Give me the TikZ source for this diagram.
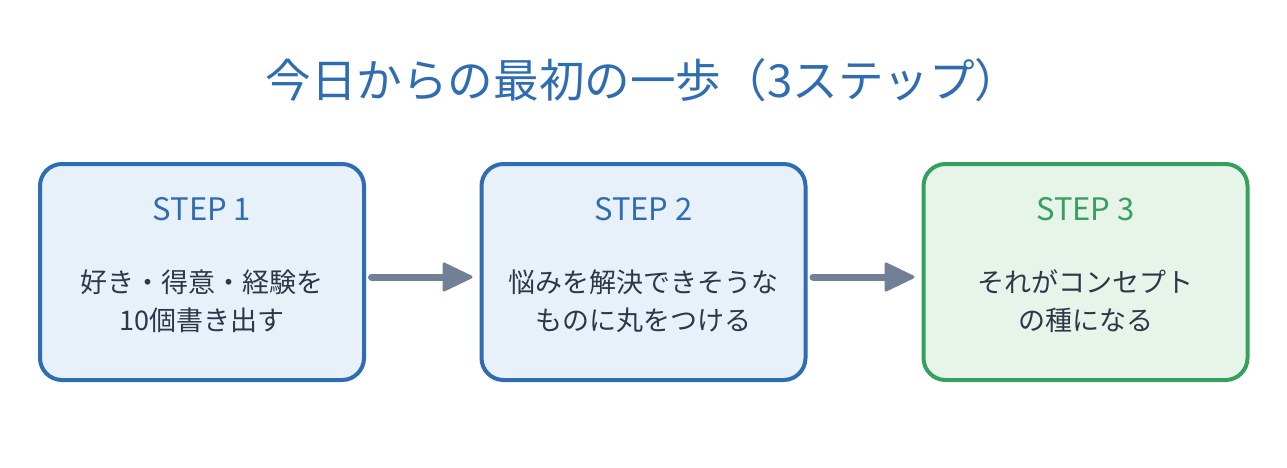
\documentclass[tikz,border=0pt]{standalone}
\usepackage{fontspec}
\setmainfont{Noto Sans CJK JP}
\usetikzlibrary{arrows.meta}
\definecolor{tblue}{HTML}{2F6DB3}
\definecolor{tgreen}{HTML}{38A05E}
\definecolor{fblue}{HTML}{E8F1FA}
\definecolor{fgreen}{HTML}{E6F4EA}
\definecolor{tdark}{HTML}{2D3748}
\definecolor{agray}{HTML}{718096}
\tikzset{
  stepbox/.style={draw, rounded corners=22pt, line width=4pt, minimum width=324pt, minimum height=216pt, outer sep=0pt, inner sep=0pt},
  bluebox/.style={stepbox, draw=tblue, fill=fblue},
  greenbox/.style={stepbox, draw=tgreen, fill=fgreen},
  steplabel/.style={font=\fontsize{31}{36}\selectfont, inner sep=0pt, anchor=center},
  bodytext/.style={font=\fontsize{27}{38}\selectfont, text=tdark, align=center, inner sep=0pt, anchor=center},
  flow/.style={draw=agray, line width=7pt, line cap=round, -{Triangle[length=32pt,width=30pt,round,line width=3pt]}, shorten <=7.5pt, shorten >=9pt},
}
\begin{document}
\begin{tikzpicture}[x=1pt,y=-1pt]
\path[use as bounding box, fill=white] (0,0) rectangle (1287,467);
\node[font=\fontsize{45.6}{54}\selectfont, text=tblue, inner sep=0pt] (title) at (643,80) {今日からの最初の一歩（3ステップ）};
\node[bluebox] (b1) at (202,272) {};
\node[bluebox] (b2) at (643.5,272) {};
\node[greenbox] (b3) at (1085.5,272) {};
\node[steplabel, text=tblue] (s1) at (b1.center |- 0,209) {STEP 1};
\node[steplabel, text=tblue] (s2) at (b2.center |- 0,209) {STEP 2};
\node[steplabel, text=tgreen] (s3) at (b3.center |- 0,209) {STEP 3};
\node[bodytext] (t1) at (b1.center |- 0,301) {好き・得意・経験を\\10個書き出す};
\node[bodytext] (t2) at (b2.center |- 0,301) {悩みを解決できそうな\\ものに丸をつける};
\node[bodytext] (t3) at (b3.center |- 0,301) {それがコンセプト\\の種になる};
\draw[flow] ([yshift=-5pt]b1.east) -- ([yshift=-5pt]b2.west);
\draw[flow] ([yshift=-5pt]b2.east) -- ([yshift=-5pt]b3.west);
\end{tikzpicture}
\end{document}
